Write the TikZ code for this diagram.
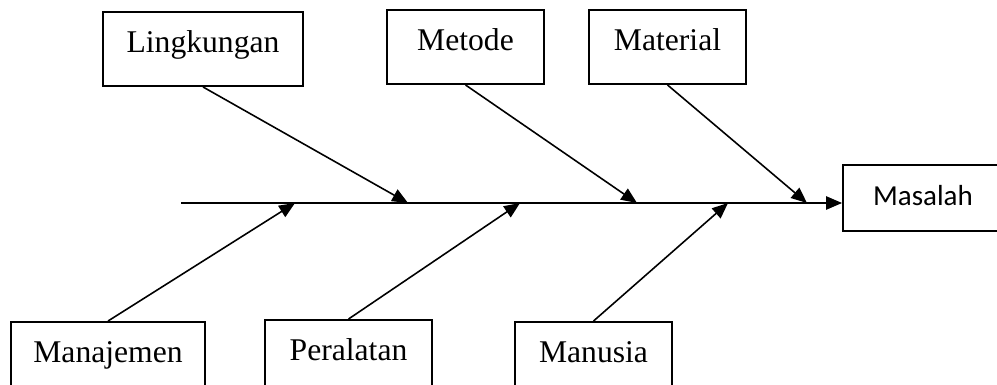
\documentclass[tikz,border=0pt]{standalone}
\usepackage{fontspec}
\setmainfont{Liberation Serif}
\newfontfamily\calibrifont{Carlito}
\usetikzlibrary{arrows.meta, positioning}

\begin{document}
\begin{tikzpicture}[
    x=0.02cm, y=-0.02cm,
    cause/.style={draw, line width=1.1pt, minimum height=1.48cm, inner sep=0pt, text height=12.5pt, text depth=8pt, font=\fontsize{18}{20}\selectfont, text centered},
    effect/.style={draw, line width=1.1pt, minimum width=3.2cm, minimum height=1.32cm, inner sep=0pt, text height=12pt, text depth=4pt, font=\calibrifont\fontsize{16.5}{18}\selectfont, text centered},
    arrow/.style={-{Triangle[length=9pt,width=7.5pt]}, line width=0.9pt}
]

% Frame
\useasboundingbox (0,0) rectangle (997,385);
\clip (0,0) rectangle (997,385);

% Main components
\node[effect] (masalah) at (923,198) {Masalah};
\coordinate (tail) at (181,203);

% Causes above the spine
\node[cause, minimum width=4cm] (lingkungan) at (203,49) {Lingkungan};
\node[cause, minimum width=3.14cm] (metode) at (465.5,47) {Metode};
\node[cause, minimum width=3.14cm] (material) at (667.5,47) {Material};

% Causes below the spine
\node[cause, minimum width=3.88cm] (manajemen) at (108,359) {Manajemen};
\node[cause, minimum width=3.34cm] (peralatan) at (348.5,357) {Peralatan};
\node[cause, minimum width=3.14cm] (manusia) at (593.5,359) {Manusia};

% Points on the spine
\coordinate (pLingkungan) at (408,203);
\coordinate (pMetode) at (637,203);
\coordinate (pMaterial) at (807,203);
\coordinate (pManajemen) at (295,203);
\coordinate (pPeralatan) at (520,203);
\coordinate (pManusia) at (728,203);

% Arrows
\draw[arrow] (tail) -- (masalah.west |- tail);

\draw[arrow] (lingkungan.south) -- (pLingkungan);
\draw[arrow] (metode.south) -- (pMetode);
\draw[arrow] (material.south) -- (pMaterial);

\draw[arrow] (manajemen.north) -- (pManajemen);
\draw[arrow] (peralatan.north) -- (pPeralatan);
\draw[arrow] (manusia.north) -- (pManusia);

\end{tikzpicture}
\end{document}
